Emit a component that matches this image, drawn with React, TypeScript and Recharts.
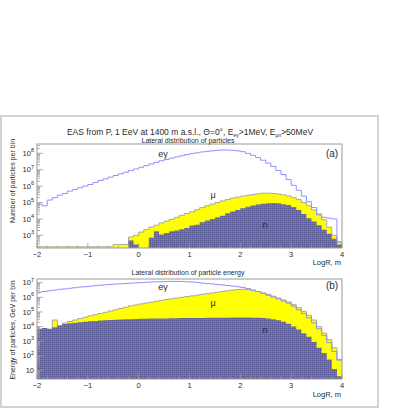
import React from 'react';
import { ComposedChart, Area, Line, XAxis, YAxis } from 'recharts';

// Bin lower edges of LogR (m); each bin is 0.1 wide, last edge 4.0
const binLow = [
  -2.0, -1.9, -1.8, -1.7, -1.6, -1.5, -1.4, -1.3, -1.2, -1.1,
  -1.0, -0.9, -0.8, -0.7, -0.6, -0.5, -0.4, -0.3, -0.2, -0.1,
  0.0, 0.1, 0.2, 0.3, 0.4, 0.5, 0.6, 0.7, 0.8, 0.9,
  1.0, 1.1, 1.2, 1.3, 1.4, 1.5, 1.6, 1.7, 1.8, 1.9,
  2.0, 2.1, 2.2, 2.3, 2.4, 2.5, 2.6, 2.7, 2.8, 2.9,
  3.0, 3.1, 3.2, 3.3, 3.4, 3.5, 3.6, 3.7, 3.8, 3.9,
];
const binEnd = 4.0;

// Panel (a): number of particles per bin, given as log10 of the count
const egCountLog10 = [
  4.9, 4.8, 5.15, 5.3, 5.45, 5.55, 5.7, 5.8, 5.9, 6.0,
  6.1, 6.22, 6.35, 6.45, 6.55, 6.65, 6.75, 6.85, 6.95, 7.05,
  7.15, 7.25, 7.35, 7.45, 7.55, 7.62, 7.7, 7.78, 7.85, 7.92,
  7.98, 8.03, 8.08, 8.12, 8.15, 8.18, 8.2, 8.2, 8.18, 8.15,
  8.1, 8.0, 7.88, 7.74, 7.58, 7.4, 7.2, 6.95, 6.7, 6.4,
  6.05, 5.75, 5.4, 5.05, 4.7, 4.25, 4.1, 4.05, 4.0, 2.6,
];
const muCountLog10 = [
  2.3, 2.3, 2.3, 2.3, 2.3, 2.3, 2.3, 2.3, 2.3, 2.3,
  2.3, 2.3, 2.3, 2.3, 2.3, 2.45, 2.45, 2.45, 2.9, 3.0,
  3.2, 3.35, 3.5, 3.62, 3.76, 3.87, 3.98, 4.1, 4.22, 4.33,
  4.43, 4.56, 4.69, 4.8, 4.9, 5.0, 5.1, 5.18, 5.27, 5.33,
  5.39, 5.44, 5.49, 5.53, 5.57, 5.57, 5.55, 5.52, 5.47, 5.4,
  5.3, 5.18, 5.0, 4.8, 4.55, 4.3, 3.95, 3.5, 3.0, 2.6,
];
const nCountLog10: (number | null)[] = [
  null, null, null, null, null, null, null, null, null, null,
  null, null, null, null, null, null, null, null, 2.69, 2.45,
  null, null, 2.85, 3.25, 3.05, 3.15, 3.25, 3.3, 3.38, 3.45,
  3.6, 3.65, 3.8, 3.9, 4.0, 4.1, 4.2, 4.35, 4.45, 4.55,
  4.65, 4.75, 4.82, 4.88, 4.92, 4.95, 4.97, 4.95, 4.9, 4.85,
  4.73, 4.55, 4.3, 4.05, 3.85, 3.62, 3.35, 3.1, 2.8, 2.45,
];

// Panel (b): energy of particles per bin (GeV), log10
const egEnergyLog10 = [
  6.35, 6.4, 6.45, 6.5, 6.55, 6.58, 6.62, 6.66, 6.7, 6.73,
  6.76, 6.8, 6.83, 6.86, 6.88, 6.91, 6.93, 6.95, 6.97, 6.99,
  7.01, 7.03, 7.05, 7.06, 7.07, 7.08, 7.09, 7.09, 7.08, 7.07,
  7.05, 7.02, 6.98, 6.95, 6.92, 6.88, 6.85, 6.81, 6.77, 6.73,
  6.68, 6.6, 6.5, 6.4, 6.28, 6.15, 6.02, 5.9, 5.75, 5.6,
  5.4, 5.15, 4.9, 4.6, 4.25, 3.85, 3.4, 2.9, 2.3, 1.7,
];
const muEnergyLog10 = [
  3.7, 3.7, 3.6, 4.45, 3.9, 4.25, 4.35, 4.45, 4.55, 4.64,
  4.73, 4.82, 4.9, 4.98, 5.07, 5.15, 5.24, 5.33, 5.42, 5.48,
  5.55, 5.61, 5.67, 5.73, 5.79, 5.85, 5.9, 5.95, 6.0, 6.05,
  6.1, 6.15, 6.2, 6.25, 6.3, 6.35, 6.4, 6.45, 6.5, 6.53,
  6.55, 6.52, 6.47, 6.4, 6.3, 6.2, 6.08, 5.95, 5.82, 5.68,
  5.5, 5.3, 5.05, 4.78, 4.45, 4.0, 3.55, 3.1, 2.55, 1.75,
];
const nEnergyLog10 = [
  3.85, 3.9, 3.85, 3.95, 4.1, 4.18, 4.22, 4.26, 4.3, 4.33,
  4.36, 4.39, 4.41, 4.43, 4.45, 4.47, 4.48, 4.5, 4.51, 4.52,
  4.53, 4.54, 4.55, 4.55, 4.56, 4.56, 4.57, 4.57, 4.58, 4.58,
  4.58, 4.59, 4.59, 4.6, 4.6, 4.6, 4.61, 4.61, 4.62, 4.62,
  4.62, 4.62, 4.61, 4.6, 4.58, 4.55, 4.5, 4.43, 4.33, 4.2,
  4.0, 3.8, 3.55, 3.3, 2.95, 2.55, 2.2, 1.75, 1.1, 0.6,
];

// Axis tick labels
const xTickLabels = [-2, -1, 0, 1, 2, 3, 4];
const yDecadesA = [3, 4, 5, 6, 7, 8];
const yDecadesB = [1, 2, 3, 4, 5, 6, 7];

const DOMAIN_A: [number, number] = [170, 3.7e8];
const DOMAIN_B: [number, number] = [2.6, 1.8e7];

function buildRows(eg: number[], mu: number[], n: (number | null)[], floor: number) {
  const rows = binLow.map((x, i) => ({
    x,
    eg: Math.pow(10, eg[i]),
    mu: Math.pow(10, mu[i]),
    n: n[i] == null ? floor : Math.pow(10, n[i] as number),
  }));
  const last = rows[rows.length - 1];
  rows.push({ ...last, x: binEnd });
  return rows;
}

const rowsA = buildRows(egCountLog10, muCountLog10, nCountLog10, DOMAIN_A[0]);
const rowsB = buildRows(egEnergyLog10, muEnergyLog10, nEnergyLog10, DOMAIN_B[0]);

function logTicks(domain: [number, number]) {
  const out: number[] = [];
  const lo = Math.floor(Math.log10(domain[0]));
  const hi = Math.ceil(Math.log10(domain[1]));
  for (let e = lo; e <= hi; e++) {
    for (let k = 1; k <= 9; k++) {
      const v = k * Math.pow(10, e);
      if (v >= domain[0] && v <= domain[1]) out.push(v);
    }
  }
  return out;
}
const yTicksA = logTicks(DOMAIN_A);
const yTicksB = logTicks(DOMAIN_B);

const xTicks: number[] = [];
for (let i = 0; i <= 30; i++) xTicks.push(Math.round((-2 + i * 0.2) * 10) / 10);

const FONT = '"Liberation Sans", Arial, sans-serif';
const AXIS_COLOR = '#9a9a9a';
const TEXT_COLOR = '#2a2a2a';

const makeYTick = (decades: number[]) => (props: any) => {
  const { x, y, payload } = props;
  const v = payload.value as number;
  const lg = Math.log10(v);
  const e = Math.round(lg);
  const major = Math.abs(lg - e) < 1e-6;
  const len = major ? 6 : 3;
  return (
    <g>
      <line x1={x} x2={x + len} y1={y} y2={y} stroke={AXIS_COLOR} strokeWidth={0.8} />
      {major && decades.includes(e) && (
        <text x={x - 3} y={y} dy="0.35em" textAnchor="end" fontSize={7.5} fontFamily={FONT} fill={TEXT_COLOR}>
          10
          {e !== 1 && (
            <tspan dy={-3.5} fontSize={5.5}>
              {e}
            </tspan>
          )}
        </text>
      )}
    </g>
  );
};

const XTick = (props: any) => {
  const { x, y, payload } = props;
  const v = payload.value as number;
  const major = Math.abs(v - Math.round(v)) < 1e-6;
  const len = major ? 5 : 2.5;
  return (
    <g>
      <line x1={x} x2={x} y1={y} y2={y - len} stroke={AXIS_COLOR} strokeWidth={0.8} />
      {major && xTickLabels.includes(Math.round(v)) && (
        <text x={x} y={y + 9} textAnchor="middle" fontSize={7.5} fontFamily={FONT} fill={TEXT_COLOR}>
          {Math.round(v) < 0 ? '\u2212' + Math.abs(Math.round(v)) : String(Math.round(v))}
        </text>
      )}
    </g>
  );
};

function Panel({ rows, domain, ticks, decades, margin, height, egColor }: any) {
  return (
    <ComposedChart width={409} height={height} data={rows} margin={margin}>
      <XAxis
        dataKey="x"
        type="number"
        domain={[-2, 4]}
        ticks={xTicks}
        interval={0}
        tick={<XTick />}
        tickLine={false}
        axisLine={false}
        tickSize={0}
        tickMargin={0}
        height={20}
        allowDataOverflow
      />
      <YAxis
        type="number"
        scale="log"
        domain={domain}
        ticks={ticks}
        interval={0}
        tick={makeYTick(decades)}
        tickLine={false}
        axisLine={false}
        tickSize={0}
        tickMargin={0}
        width={30}
        allowDataOverflow
      />
      <Area
        dataKey="mu"
        type="stepAfter"
        fill="#ffff00"
        fillOpacity={1}
        stroke="#a8a8a8"
        strokeWidth={1}
        baseValue={domain[0]}
        isAnimationActive={false}
        dot={false}
        activeDot={false}
      />
      <Area
        dataKey="n"
        type="stepAfter"
        fill="url(#hatchN)"
        fillOpacity={1}
        stroke="none"
        baseValue={domain[0]}
        isAnimationActive={false}
        dot={false}
        activeDot={false}
      />
      <Line
        dataKey="eg"
        type="stepAfter"
        stroke={egColor}
        strokeWidth={1}
        dot={false}
        activeDot={false}
        isAnimationActive={false}
      />
    </ComposedChart>
  );
}

export default function App() {
  return (
    <div
      style={{
        position: 'absolute',
        left: 0,
        top: 0,
        width: 409,
        height: 409,
        background: '#ffffff',
        overflow: 'hidden',
      }}
    >
      <svg width={0} height={0} style={{ position: 'absolute' }}>
        <defs>
          <pattern id="hatchN" x={0} y={0} width={2} height={2} patternUnits="userSpaceOnUse">
            <rect x={0} y={0} width={2} height={2} fill="#707084" />
            <rect x={0} y={0} width={1} height={1} fill="#5c5c98" />
            <rect x={1} y={1} width={1} height={1} fill="#85857e" />
          </pattern>
        </defs>
      </svg>
      <div style={{ position: 'absolute', left: 0, top: 0 }}>
        <Panel
          rows={rowsA}
          domain={DOMAIN_A}
          ticks={yTicksA}
          decades={yDecadesA}
          height={270}
          margin={{ top: 144, right: 67, bottom: 2, left: 7 }}
          egColor="#9090ff"
        />
      </div>
      <div style={{ position: 'absolute', left: 0, top: 260 }}>
        <Panel
          rows={rowsB}
          domain={DOMAIN_B}
          ticks={yTicksB}
          decades={yDecadesB}
          height={149}
          margin={{ top: 19, right: 67, bottom: 10, left: 7 }}
          egColor="#9090ff"
        />
      </div>
      <svg
        width={409}
        height={409}
        style={{ position: 'absolute', left: 0, top: 0, pointerEvents: 'none' }}
        fontFamily={FONT}
      >
        <rect x={1} y={116} width={377} height={291} fill="none" stroke="#d2d2d2" strokeWidth={2} />
        <rect x={37} y={144} width={305} height={104} fill="none" stroke={AXIS_COLOR} strokeWidth={1} />
        <rect x={37} y={279} width={305} height={100} fill="none" stroke={AXIS_COLOR} strokeWidth={1} />

        <text x={190} y={135} textAnchor="middle" fontSize={8.5} fill={TEXT_COLOR}>
          EAS from P, 1 EeV at 1400 m a.s.l., Θ=0°, E
          <tspan fontSize={5} dy={1.5}>eγ</tspan>
          <tspan dy={-1.5}>&gt;1MeV, E</tspan>
          <tspan fontSize={5} dy={1.5}>μn</tspan>
          <tspan dy={-1.5}>&gt;50MeV</tspan>
        </text>
        <text x={188} y={142.5} textAnchor="middle" fontSize={7} fill={TEXT_COLOR}>
          Lateral distribution of particles
        </text>
        <text x={188} y={275} textAnchor="middle" fontSize={7} fill={TEXT_COLOR}>
          Lateral distribution of particle energy
        </text>

        <text x={332} y={157} textAnchor="middle" fontSize={10} fill={TEXT_COLOR}>(a)</text>
        <text x={332} y={289} textAnchor="middle" fontSize={10} fill={TEXT_COLOR}>(b)</text>

        <text x={163} y={157} textAnchor="middle" fontSize={9} fill={TEXT_COLOR}>eγ</text>
        <text x={213} y={198} textAnchor="middle" fontSize={9} fill={TEXT_COLOR}>μ</text>
        <text x={265} y={228} textAnchor="middle" fontSize={9} fill={TEXT_COLOR}>n</text>
        <text x={163} y={290} textAnchor="middle" fontSize={9} fill={TEXT_COLOR}>eγ</text>
        <text x={213} y={306} textAnchor="middle" fontSize={9} fill={TEXT_COLOR}>μ</text>
        <text x={265} y={333} textAnchor="middle" fontSize={9} fill={TEXT_COLOR}>n</text>

        <text x={341} y={265} textAnchor="end" fontSize={7.5} fill={TEXT_COLOR}>LogR, m</text>
        <text x={341} y={397} textAnchor="end" fontSize={7.5} fill={TEXT_COLOR}>LogR, m</text>

        <text x={15} y={181} textAnchor="middle" fontSize={7} fill={TEXT_COLOR} transform="rotate(-90 15 181)">
          Number of particles per bin
        </text>
        <text x={15} y={330} textAnchor="middle" fontSize={7} fill={TEXT_COLOR} transform="rotate(-90 15 330)">
          Energy of particles, GeV per bin
        </text>
      </svg>
    </div>
  );
}
